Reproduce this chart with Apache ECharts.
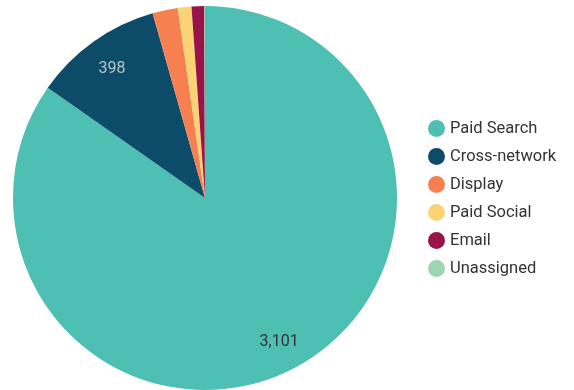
<!DOCTYPE html>
<html><head><meta charset="utf-8">
<script src="https://cdn.jsdelivr.net/npm/echarts@6/dist/echarts.min.js"></script>
<style>html,body{margin:0;padding:0;background:#fff}#c{width:574px;height:390px}</style>
</head><body><div id="c"></div>
<script>
const categories = ['Paid Search','Cross-network','Display','Paid Social','Email','Unassigned'];
const values = [3101, 398, 78, 42, 39, 2];
const colors = ['#4dbfb3','#0c4c69','#f6804f','#fcd374','#97134a','#9bd5b1'];
const labelColors = ['#333333','#b9c1c6','#333','#333','#333','#333'];

const data = categories.map((n,i)=>({name:n, value:values[i], itemStyle:{color:colors[i]}}));
const labelData = categories.map((n,i)=>({name:n, value:values[i], label:{color:labelColors[i]}}));

const chart = echarts.init(document.getElementById('c'));
chart.setOption({
  animation:false,
  legend:{
    orient:'vertical', left:423, top:115,
    icon:'circle', itemWidth:17, itemHeight:17, itemGap:11,
    textStyle:{fontFamily:'Roboto', fontSize:16.5, color:'#333'},
    data:categories
  },
  series:[
    {type:'pie', center:[205,198], radius:[0,192], startAngle:90, clockwise:true,
     label:{show:false}, labelLine:{show:false}, data:data, silent:true},
    {type:'pie', center:[205,198], radius:[123,192], startAngle:90, clockwise:true,
     itemStyle:{color:'transparent'}, silent:true, minShowLabelAngle:20,
     label:{show:true, position:'inside', fontFamily:'Roboto', fontSize:16, offset:[0,2],
       formatter:p=>p.value.toLocaleString('en-US')},
     labelLine:{show:false}, data:labelData}
  ]
});
</script></body></html>
